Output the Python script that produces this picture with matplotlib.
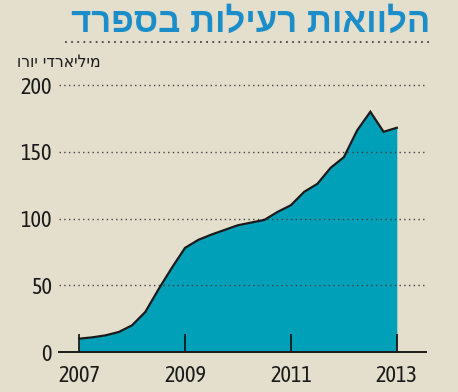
import matplotlib
matplotlib.use("Agg")
import matplotlib.pyplot as plt
from matplotlib import font_manager

# quarterly values, billions of euro
years = [2007.0, 2007.25, 2007.5, 2007.75, 2008.0, 2008.25, 2008.5, 2008.75,
         2009.0, 2009.25, 2009.5, 2009.75, 2010.0, 2010.25, 2010.5, 2010.75,
         2011.0, 2011.25, 2011.5, 2011.75, 2012.0, 2012.25, 2012.5, 2012.75,
         2013.0]
loans = [10, 11, 12.5, 15, 20, 30, 47, 63,
         78, 84, 88, 91.5, 95, 97, 99, 105,
         110, 120, 126, 138, 146, 166, 180, 165,
         168]
y_ticks = [0, 50, 100, 150, 200]
x_ticks = [2007, 2009, 2011, 2013]

title = "הלוואות רעילות בספרד"
unit = "מיליארדי יורו"

bg = "#e4dfcc"
teal = "#00a0b8"
blue = "#1b8dc8"

names = {f.name for f in font_manager.fontManager.ttflist}
digits_font = "DejaVu Sans"
for cand in ["Asap Condensed", "Barlow Semi Condensed", "Archivo Narrow"]:
    if cand in names:
        digits_font = cand
        break

fig = plt.figure(figsize=(4.58, 3.92), dpi=100, facecolor=bg)
ax = fig.add_axes([0.1288, 0.102, 0.8012, 0.698])
ax.set_facecolor(bg)

ax.fill_between(years, loans, 0, color=teal, lw=0, zorder=1)
ax.plot(years, loans, color="#1a1a1a", lw=1.6, solid_joinstyle="miter", zorder=3)

for v in y_ticks[1:]:
    ax.axhline(v, color="#444444", lw=1.0, ls=(0, (1, 2.4)), zorder=2)

ax.set_xlim(2006.62, 2013.55)
ax.set_ylim(0, 205)

for s in ["top", "right", "left"]:
    ax.spines[s].set_visible(False)
ax.spines["bottom"].set_color("#1a1a1a")
ax.spines["bottom"].set_linewidth(1.4)
ax.spines["bottom"].set_zorder(4)

ax.set_yticks(y_ticks)
ax.set_xticks(x_ticks)
ax.set_xticks(x_ticks, minor=True)
ax.set_xticklabels([str(x) for x in x_ticks], fontsize=16, family=digits_font, color="#1a1a1a")
ax.set_yticklabels([str(v) for v in y_ticks], fontsize=16, family=digits_font, color="#1a1a1a")
ax.tick_params(axis="y", length=0, pad=5)
ax.tick_params(axis="x", which="major", direction="in", length=13, width=1.3, color="#1a1a1a", pad=9)
ax.tick_params(axis="x", which="minor", direction="out", length=5, width=1.3, color="#1a1a1a")

# hebrew is drawn left to right by matplotlib, so reverse it
fig.text(0.94, 0.943, title[::-1], ha="right", va="center", fontsize=25,
         fontweight="bold", color=blue, family=["Liberation Sans", "DejaVu Sans"])
fig.add_artist(plt.Line2D([0.142, 0.94], [0.893, 0.893], color="#444444", lw=1.3,
                          ls=(0, (1, 2.4)), transform=fig.transFigure))
fig.text(0.037, 0.842, unit[::-1], ha="left", va="center", fontsize=12.5,
         color="#1a1a1a", family="DejaVu Sans", fontstretch="condensed")

fig.savefig("out.png", dpi=100, facecolor=bg)
